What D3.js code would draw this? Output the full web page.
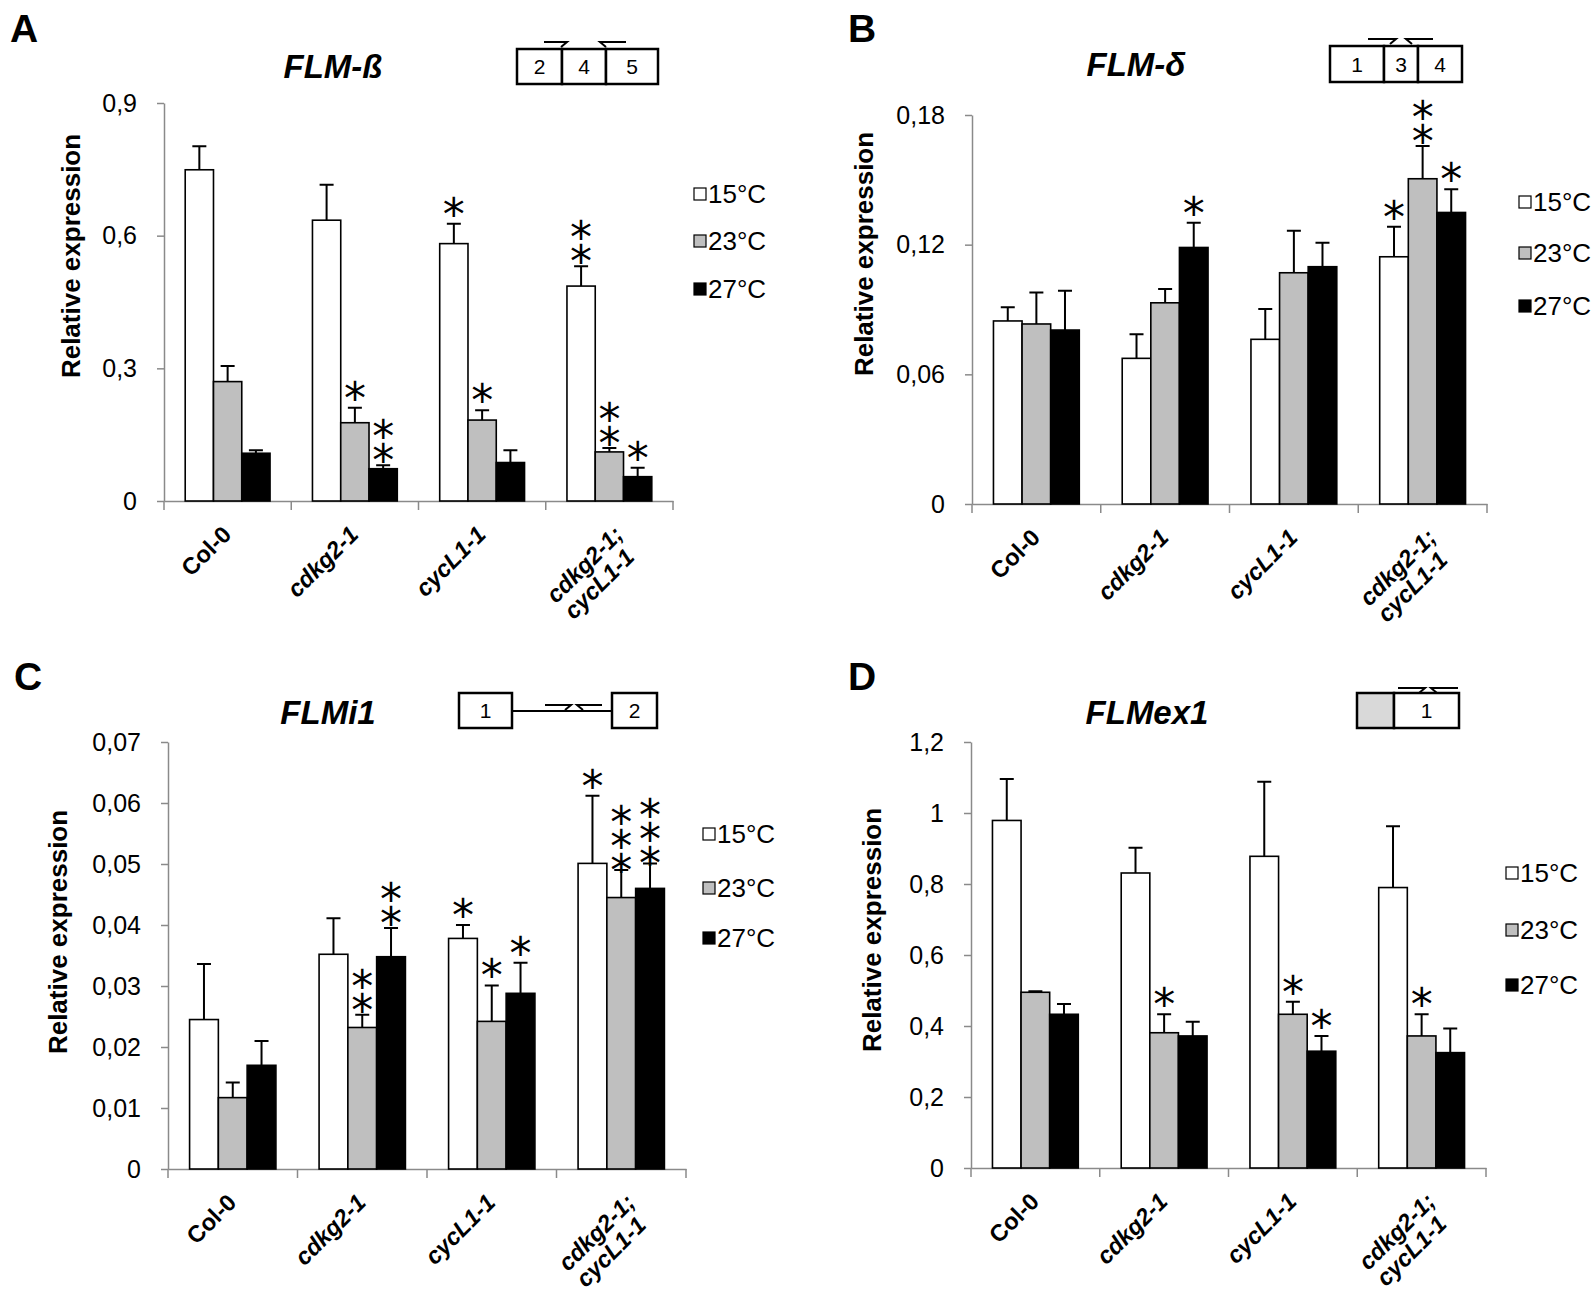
<!DOCTYPE html>
<html>
<head>
<meta charset="utf-8">
<script src="https://cdn.jsdelivr.net/npm/d3@7"></script>
<style>
  body { margin: 0; background: #fff; }
  svg text { font-family: "Liberation Sans", Arial, sans-serif; fill: #000; }
  svg text.stars {
    font-family: "DejaVu Sans", sans-serif;
    font-size: 44px;
    writing-mode: vertical-rl;
    text-orientation: upright;
    letter-spacing: -27px;
  }
</style>
</head>
<body>
<div id="chart"></div>
<script>
const categories = ['Col-0', 'cdkg2-1', 'cycL1-1', 'cdkg2-1;\ncycL1-1'];
const series = ['15°C', '23°C', '27°C'];

// A  FLM-ß
const flmB15 = [0.749, 0.635, 0.582, 0.486];
const flmB15Err = [0.053, 0.080, 0.045, 0.045];
const flmB23 = [0.270, 0.177, 0.183, 0.111];
const flmB23Err = [0.035, 0.034, 0.022, 0.009];
const flmB27 = [0.108, 0.073, 0.087, 0.055];
const flmB27Err = [0.007, 0.008, 0.028, 0.020];
const flmBStars = [[0, 0, 1, 2], [0, 1, 1, 2], [0, 2, 0, 1]];
const flmBTicks = [0, 0.3, 0.6, 0.9];

// B  FLM-δ
const flmD15 = [0.0847, 0.0674, 0.0762, 0.1144];
const flmD15Err = [0.0063, 0.0111, 0.0140, 0.0139];
const flmD23 = [0.0833, 0.0931, 0.1070, 0.1505];
const flmD23Err = [0.0146, 0.0064, 0.0194, 0.0151];
const flmD27 = [0.0805, 0.1187, 0.1098, 0.1349];
const flmD27Err = [0.0182, 0.0114, 0.0111, 0.0108];
const flmDStars = [[0, 0, 0, 1], [0, 0, 0, 2], [0, 1, 0, 1]];
const flmDTicks = [0, 0.06, 0.12, 0.18];

// C  FLMi1
const flmI15 = [0.0245, 0.0352, 0.0378, 0.0501];
const flmI15Err = [0.0091, 0.0059, 0.0022, 0.0111];
const flmI23 = [0.0117, 0.0232, 0.0242, 0.0445];
const flmI23Err = [0.0025, 0.0021, 0.0059, 0.0045];
const flmI27 = [0.0170, 0.0348, 0.0288, 0.0460];
const flmI27Err = [0.0040, 0.0047, 0.0050, 0.0041];
const flmIStars = [[0, 0, 1, 1], [0, 2, 1, 3], [0, 2, 1, 3]];
const flmITicks = [0, 0.01, 0.02, 0.03, 0.04, 0.05, 0.06, 0.07];

// D  FLMex1
const flmE15 = [0.979, 0.831, 0.878, 0.790];
const flmE15Err = [0.117, 0.071, 0.210, 0.173];
const flmE23 = [0.495, 0.381, 0.433, 0.372];
const flmE23Err = [0.003, 0.052, 0.035, 0.061];
const flmE27 = [0.433, 0.372, 0.329, 0.325];
const flmE27Err = [0.029, 0.040, 0.043, 0.068];
const flmEStars = [[0, 0, 0, 0], [0, 1, 1, 1], [0, 0, 1, 0]];
const flmETicks = [0, 0.2, 0.4, 0.6, 0.8, 1, 1.2];

const fills = ['#ffffff', '#bfbfbf', '#000000'];
const axisGrey = '#8a8a8a';

const panels = [
  { letter: 'A', lx: 10, ly: 42, title: 'FLM-ß', tx: 333, ty: 78,
    values: [flmB15, flmB23, flmB27], errors: [flmB15Err, flmB23Err, flmB27Err],
    stars: flmBStars, ticks: flmBTicks,
    x0: 164, x1: 673, y0: 501, y1: 103, ylx: 71, yly: 256,
    legX: 694, legY: [194, 241, 289],
    gene: { y: 49, h: 35, cells: [[517, 562, '2'], [562, 606, '4'], [606, 658, '5']],
            fwd: [544, 567, 42], rev: [600, 626, 42] } },
  { letter: 'B', lx: 848, ly: 42, title: 'FLM-δ', tx: 1136, ty: 76,
    values: [flmD15, flmD23, flmD27], errors: [flmD15Err, flmD23Err, flmD27Err],
    stars: flmDStars, ticks: flmDTicks,
    x0: 972, x1: 1487, y0: 504, y1: 115, ylx: 864, yly: 254,
    legX: 1519, legY: [202, 253, 306],
    gene: { y: 46, h: 36, cells: [[1330, 1384, '1'], [1384, 1418, '3'], [1418, 1462, '4']],
            fwd: [1368, 1396, 39], rev: [1406, 1433, 39] } },
  { letter: 'C', lx: 14, ly: 690, title: 'FLMi1', tx: 328, ty: 724,
    values: [flmI15, flmI23, flmI27], errors: [flmI15Err, flmI23Err, flmI27Err],
    stars: flmIStars, ticks: flmITicks,
    x0: 168, x1: 686, y0: 1169, y1: 742, ylx: 58, yly: 932,
    legX: 703, legY: [834, 888, 938],
    gene: { y: 693, h: 35, cells: [[459, 512, '1'], [612, 657, '2']], link: [512, 612, 711],
            fwd: [545, 571, 705], rev: [577, 602, 705] } },
  { letter: 'D', lx: 848, ly: 690, title: 'FLMex1', tx: 1147, ty: 724,
    values: [flmE15, flmE23, flmE27], errors: [flmE15Err, flmE23Err, flmE27Err],
    stars: flmEStars, ticks: flmETicks,
    x0: 971, x1: 1486, y0: 1168, y1: 742, ylx: 872, yly: 930,
    legX: 1506, legY: [873, 930, 985],
    gene: { y: 693, h: 35, cells: [[1357, 1394, '', '#d9d9d9'], [1394, 1459, '1']],
            fwd: [1398, 1425, 688], rev: [1431, 1458, 688] } }
];

const svg = d3.select('#chart').append('svg')
  .attr('width', 1595)
  .attr('height', 1301)
  .style('background', '#fff');

function comma(d) { return String(d).replace('.', ','); }

function drawPanel(p) {
  const g = svg.append('g');
  const x = d3.scaleBand().domain(categories).range([p.x0, p.x1]);
  const w = x.bandwidth();
  const xs = d3.scaleBand().domain(series).range([w / 6, w * 5 / 6]);
  const y = d3.scaleLinear().domain([0, p.ticks[p.ticks.length - 1]]).range([p.y0, p.y1]);

  // y axis
  const ya = g.append('g')
    .attr('transform', `translate(${p.x0},0)`)
    .call(d3.axisLeft(y).tickValues(p.ticks).tickFormat(comma).tickSize(7).tickSizeOuter(0).tickPadding(20));
  ya.select('.domain').attr('stroke', axisGrey).attr('stroke-width', 1.5);
  ya.selectAll('.tick line').attr('stroke', axisGrey).attr('stroke-width', 1.5);
  ya.selectAll('.tick text').style('font-size', '25px').attr('fill', '#111');

  // x axis, ticks sit on category boundaries
  const xa = g.append('g')
    .attr('transform', `translate(0,${p.y0})`)
    .call(d3.axisBottom(x).tickSize(0).tickSizeOuter(0).tickFormat(() => ''));
  xa.select('.domain').attr('stroke', axisGrey).attr('stroke-width', 1.5);
  xa.selectAll('.tick').remove();
  g.selectAll('line.xt')
    .data(categories.map(c => x(c)).concat([p.x1]))
    .join('line')
    .attr('class', 'xt')
    .attr('x1', d => d).attr('x2', d => d)
    .attr('y1', p.y0).attr('y2', p.y0 + 9)
    .attr('stroke', axisGrey).attr('stroke-width', 1.5);

  // bars, error bars, asterisks
  series.forEach((s, i) => {
    const rows = categories.map((c, j) => ({
      cx: x(c) + xs(s) + xs.bandwidth() / 2,
      left: x(c) + xs(s),
      v: p.values[i][j],
      e: p.errors[i][j],
      n: p.stars[i][j]
    }));
    g.selectAll(null).data(rows).join('rect')
      .attr('x', d => d.left)
      .attr('y', d => y(d.v))
      .attr('width', xs.bandwidth())
      .attr('height', d => y(0) - y(d.v))
      .attr('fill', fills[i])
      .attr('stroke', '#000')
      .attr('stroke-width', 1.6);
    g.selectAll(null).data(rows).join('path')
      .attr('d', d => `M${d.cx},${y(d.v)}V${y(d.v + d.e)}M${d.cx - 7},${y(d.v + d.e)}H${d.cx + 7}`)
      .attr('stroke', '#000')
      .attr('stroke-width', 2)
      .attr('fill', 'none');
    // stacked asterisks as one vertical text
    g.selectAll(null).data(rows.filter(d => d.n > 0)).join('text')
      .attr('class', 'stars')
      .attr('x', d => d.cx)
      .attr('y', d => y(d.v + d.e) - 35 - (d.n - 1) * 19)
      .text(d => '*'.repeat(d.n));
  });

  // rotated category labels
  categories.forEach(c => {
    const lines = c.split('\n');
    const cx = x(c) + w / 2;
    const ax = cx + (lines.length > 1 ? 15 : 5);
    const lab = g.append('g').attr('transform', `translate(${ax},${p.y0 + 35}) rotate(-45)`);
    lines.forEach((t, k) => {
      lab.append('text')
        .attr('x', k * -8)
        .attr('y', k * 24)
        .attr('text-anchor', 'end')
        .style('font-size', '23.5px')
        .style('font-weight', 'bold')
        .style('font-style', c === 'Col-0' ? 'normal' : 'italic')
        .text(t);
    });
  });

  // y label
  g.append('text')
    .attr('transform', `translate(${p.ylx},${p.yly}) rotate(-90)`)
    .attr('text-anchor', 'middle')
    .attr('dy', '0.35em')
    .style('font-size', '26px')
    .style('font-weight', 'bold')
    .text('Relative expression');

  // legend
  series.forEach((s, i) => {
    g.append('rect')
      .attr('x', p.legX).attr('y', p.legY[i] - 6)
      .attr('width', 12).attr('height', 12)
      .attr('fill', fills[i]).attr('stroke', '#000').attr('stroke-width', 1.2);
    g.append('text')
      .attr('x', p.legX + 14).attr('y', p.legY[i])
      .attr('dy', '0.35em')
      .style('font-size', '26px')
      .text(s);
  });

  // title and panel letter
  g.append('text')
    .attr('x', p.tx).attr('y', p.ty)
    .attr('text-anchor', 'middle')
    .style('font-size', '33px')
    .style('font-weight', 'bold')
    .style('font-style', 'italic')
    .text(p.title);
  g.append('text')
    .attr('x', p.lx).attr('y', p.ly)
    .style('font-size', '39px')
    .style('font-weight', 'bold')
    .text(p.letter);

  // gene model with primer half-arrows
  const gm = p.gene;
  if (gm.link) {
    g.append('line')
      .attr('x1', gm.link[0]).attr('x2', gm.link[1])
      .attr('y1', gm.link[2]).attr('y2', gm.link[2])
      .attr('stroke', '#000').attr('stroke-width', 2);
  }
  gm.cells.forEach(cell => {
    g.append('rect')
      .attr('x', cell[0]).attr('y', gm.y)
      .attr('width', cell[1] - cell[0]).attr('height', gm.h)
      .attr('fill', cell[3] || '#fff')
      .attr('stroke', '#000').attr('stroke-width', 2.5);
    g.append('text')
      .attr('x', (cell[0] + cell[1]) / 2).attr('y', gm.y + gm.h / 2)
      .attr('dy', '0.36em')
      .attr('text-anchor', 'middle')
      .style('font-size', '21px')
      .text(cell[2]);
  });
  g.append('path')
    .attr('d', `M${gm.fwd[0]},${gm.fwd[2]}H${gm.fwd[1]}l-6,5`)
    .attr('stroke', '#000').attr('stroke-width', 2).attr('fill', 'none');
  g.append('path')
    .attr('d', `M${gm.rev[1]},${gm.rev[2]}H${gm.rev[0]}l6,5`)
    .attr('stroke', '#000').attr('stroke-width', 2).attr('fill', 'none');
}

panels.forEach(drawPanel);
</script>
</body>
</html>
